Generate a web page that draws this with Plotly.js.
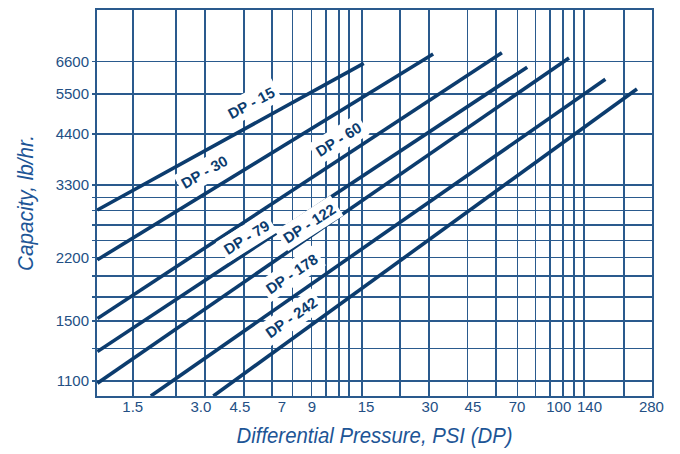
<!DOCTYPE html>
<html>
<head>
<meta charset="utf-8">
<script src="https://cdn.plot.ly/plotly-3.0.1.min.js"></script>
<style>
  html, body { margin: 0; padding: 0; background: #ffffff; }
  #chart { width: 680px; height: 454px; }
</style>
</head>
<body>
<div id="chart"></div>
<script>
// ---- Data ----
const seriesNames = ['DP - 15', 'DP - 30', 'DP - 60', 'DP - 79', 'DP - 122', 'DP - 178', 'DP - 242'];
const dpStart  = [1.05, 1.05, 1.05, 1.05, 1.05, 1.80, 3.38];
const dpEnd    = [15.4, 31, 62, 80, 122, 176, 242];
const capStart = [2870, 2170, 1560, 1296, 1085, 1010, 1010];
const capEnd   = [6540, 6890, 6940, 6400, 6740, 5980, 5660];

// grid lines
const xGrid = [1.5, 2.32, 3.11, 4.6, 6.12, 7.52, 9.11, 10.5, 12, 13.3, 15.1, 22.2, 29.7, 43.9, 58.4, 72.7, 87.2, 100.7, 115, 128, 142, 212];
const yGrid = [1100, 1320, 1540, 1760, 1980, 2200, 2420, 2640, 2860, 3080, 3300, 4400, 5500, 6600];

// tick labels
const xLabelPos  = [1.5, 2.98, 4.42, 6.75, 9.14, 15.75, 30, 46.3, 72.2, 110, 150, 280];
const xLabelText = ['1.5', '3.0', '4.5', '7', '9', '15', '30', '45', '70', '100', '140', '280'];
const yLabelPos  = [1100, 1540, 2200, 3300, 4400, 5500, 6600];
const yLabelText = ['1100', '1500', '2200', '3300', '4400', '5500', '6600'];

// ---- Styles ----
const gridColor = '#2a5a8d';
const curveColor = '#0c3c6e';
const tickColor = '#234f84';
const titleColor = '#1d5596';
const baseFont = "'Liberation Sans', Arial, sans-serif";
const xRange = [Math.log10(1.046), Math.log10(281.6)];
const yRange = [Math.log10(1010), Math.log10(8822)];

const traces = seriesNames.map((name, i) => ({
  type: 'scatter',
  mode: 'lines',
  name: name,
  x: [dpStart[i], dpEnd[i]],
  y: [capStart[i], capEnd[i]],
  line: { color: curveColor, width: 3.6 },
  hoverinfo: 'skip',
  showlegend: false
}));

// invisible carrier so the label axis is drawn
traces.push({
  type: 'scatter', mode: 'markers',
  x: [xLabelPos[0]], y: [yLabelPos[0]],
  xaxis: 'x2', yaxis: 'y',
  marker: { opacity: 0 },
  hoverinfo: 'skip', showlegend: false
});

// label placement (log-space coordinates on the axes) and angles
const labelPlace = [
  { x: 0.698, y: 3.719, a: -28 },
  { x: 0.492, y: 3.551, a: -30 },
  { x: 1.075, y: 3.631, a: -32 },
  { x: 0.672, y: 3.392, a: -32 },
  { x: 0.948, y: 3.424, a: -33 },
  { x: 0.873, y: 3.304, a: -34 },
  { x: 0.869, y: 3.195, a: -35 }
];

const annotations = seriesNames.map((name, i) => ({
  xref: 'x', yref: 'y',
  x: labelPlace[i].x, y: labelPlace[i].y,
  text: '<b>' + name + '</b>',
  showarrow: false,
  textangle: labelPlace[i].a,
  bgcolor: '#ffffff',
  borderpad: 3,
  font: { family: baseFont, size: 15, color: curveColor }
}));

const layout = {
  width: 680,
  height: 454,
  margin: { l: 97, r: 28, t: 10, b: 58 },
  paper_bgcolor: '#ffffff',
  plot_bgcolor: '#ffffff',
  showlegend: false,
  font: { family: baseFont, color: tickColor, size: 15 },
  xaxis: {
    type: 'log',
    range: xRange,
    tickmode: 'array',
    tickvals: xGrid,
    ticktext: xGrid.map(() => ''),
    showticklabels: false,
    ticks: '',
    showgrid: true,
    gridcolor: gridColor,
    gridwidth: 1.5,
    zeroline: false,
    showline: true,
    mirror: true,
    linecolor: gridColor,
    linewidth: 2,
    title: {
      text: 'Differential Pressure, PSI (DP)',
      font: { family: baseFont, size: 22, color: titleColor, style: 'italic' },
      standoff: 31
    },
    fixedrange: true
  },
  xaxis2: {
    type: 'log',
    range: xRange,
    overlaying: 'x',
    anchor: 'y',
    side: 'bottom',
    tickmode: 'array',
    tickvals: xLabelPos,
    ticktext: xLabelText,
    ticks: '',
    showgrid: false,
    zeroline: false,
    showline: false,
    tickfont: { family: baseFont, size: 15, color: tickColor },
    fixedrange: true
  },
  yaxis: {
    type: 'log',
    range: yRange,
    tickmode: 'array',
    tickvals: yGrid,
    ticktext: yGrid.map(v => {
      const k = yLabelPos.indexOf(v);
      return k >= 0 ? yLabelText[k] : '';
    }),
    ticks: 'outside',
    ticklen: 3,
    tickwidth: 1.5,
    tickcolor: gridColor,
    showgrid: true,
    gridcolor: gridColor,
    gridwidth: 1.5,
    zeroline: false,
    showline: true,
    mirror: true,
    linecolor: gridColor,
    linewidth: 2,
    tickfont: { family: baseFont, size: 15, color: tickColor },
    title: {
      text: 'Capacity, lb/hr.',
      font: { family: baseFont, size: 22, color: titleColor, style: 'italic' },
      standoff: 16
    },
    fixedrange: true
  },
  annotations: annotations
};

Plotly.newPlot('chart', traces, layout, { displayModeBar: false, staticPlot: true }).then(() => {
  // condense the axis titles to the narrow face used in the reference
  const xt = document.querySelector('#chart text.xtitle');
  if (xt) { xt.setAttribute('textLength', '276'); xt.setAttribute('lengthAdjust', 'spacingAndGlyphs'); }
  const yt = document.querySelector('#chart text.ytitle');
  if (yt) { yt.setAttribute('textLength', '136'); yt.setAttribute('lengthAdjust', 'spacingAndGlyphs'); }
});
</script>
</body>
</html>
